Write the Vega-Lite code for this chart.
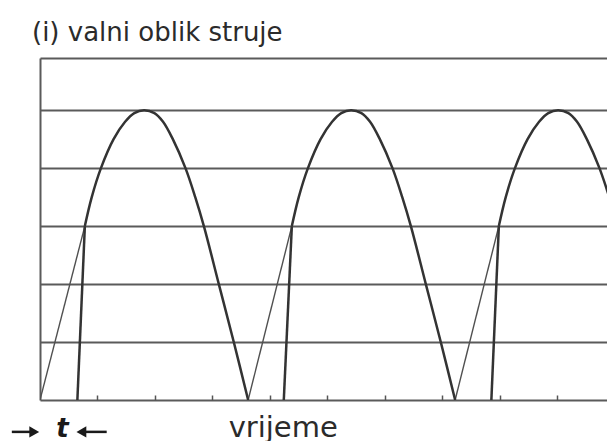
{
  "$schema": "https://vega.github.io/schema/vega-lite/v6.json",
  "width": 567,
  "height": 342,
  "autosize": "none",
  "padding": {"left": 40, "top": 58, "right": 0, "bottom": 41},
  "background": "white",
  "config": {"view": {"stroke": null}},
  "title": {
    "text": "(i) valni oblik struje",
    "anchor": "start",
    "frame": "group",
    "font": "DejaVu Sans",
    "fontSize": 26,
    "fontWeight": "normal",
    "color": "#2b2b2b",
    "baseline": "alphabetic",
    "offset": -9,
    "dx": -8
  },
  "datasets": {
    "arc": [
      {"seg": 1, "x": 0.78, "y": 3.0}, {"seg": 1, "x": 0.90, "y": 3.5}, {"seg": 1, "x": 1.06, "y": 4.0},
      {"seg": 1, "x": 1.28, "y": 4.5}, {"seg": 1, "x": 1.48, "y": 4.8}, {"seg": 1, "x": 1.64, "y": 4.95},
      {"seg": 1, "x": 1.81, "y": 5.0}, {"seg": 1, "x": 1.99, "y": 4.95}, {"seg": 1, "x": 2.14, "y": 4.8},
      {"seg": 1, "x": 2.31, "y": 4.5}, {"seg": 1, "x": 2.53, "y": 4.0}, {"seg": 1, "x": 2.70, "y": 3.5},
      {"seg": 1, "x": 2.85, "y": 3.0}, {"seg": 1, "x": 3.11, "y": 2.0}, {"seg": 1, "x": 3.37, "y": 1.0},
      {"seg": 1, "x": 3.62, "y": 0.0},
      {"seg": 2, "x": 4.38, "y": 3.0}, {"seg": 2, "x": 4.50, "y": 3.5}, {"seg": 2, "x": 4.66, "y": 4.0},
      {"seg": 2, "x": 4.88, "y": 4.5}, {"seg": 2, "x": 5.08, "y": 4.8}, {"seg": 2, "x": 5.24, "y": 4.95},
      {"seg": 2, "x": 5.41, "y": 5.0}, {"seg": 2, "x": 5.59, "y": 4.95}, {"seg": 2, "x": 5.74, "y": 4.8},
      {"seg": 2, "x": 5.91, "y": 4.5}, {"seg": 2, "x": 6.13, "y": 4.0}, {"seg": 2, "x": 6.30, "y": 3.5},
      {"seg": 2, "x": 6.45, "y": 3.0}, {"seg": 2, "x": 6.71, "y": 2.0}, {"seg": 2, "x": 6.97, "y": 1.0},
      {"seg": 2, "x": 7.22, "y": 0.0},
      {"seg": 3, "x": 7.98, "y": 3.0}, {"seg": 3, "x": 8.10, "y": 3.5}, {"seg": 3, "x": 8.26, "y": 4.0},
      {"seg": 3, "x": 8.48, "y": 4.5}, {"seg": 3, "x": 8.68, "y": 4.8}, {"seg": 3, "x": 8.84, "y": 4.95},
      {"seg": 3, "x": 9.01, "y": 5.0}, {"seg": 3, "x": 9.19, "y": 4.95}, {"seg": 3, "x": 9.34, "y": 4.8},
      {"seg": 3, "x": 9.51, "y": 4.5}, {"seg": 3, "x": 9.73, "y": 4.0}, {"seg": 3, "x": 9.90, "y": 3.5},
      {"seg": 3, "x": 10.05, "y": 3.0}, {"seg": 3, "x": 10.31, "y": 2.0}
    ],
    "rise": [
      {"seg": 1, "x": 0.65, "y": 0}, {"seg": 1, "x": 0.78, "y": 3.0},
      {"seg": 2, "x": 4.24, "y": 0}, {"seg": 2, "x": 4.38, "y": 3.0},
      {"seg": 3, "x": 7.85, "y": 0}, {"seg": 3, "x": 7.98, "y": 3.0}
    ],
    "ramp": [
      {"seg": 1, "x": 0.0, "y": 0}, {"seg": 1, "x": 0.78, "y": 3.0},
      {"seg": 2, "x": 3.62, "y": 0}, {"seg": 2, "x": 4.38, "y": 3.0},
      {"seg": 3, "x": 7.22, "y": 0}, {"seg": 3, "x": 7.98, "y": 3.0}
    ],
    "arrowShaft": [
      {"x": -0.49, "x2": -0.12, "y": -0.55},
      {"x": 0.74, "x2": 1.16, "y": -0.55}
    ],
    "arrowHead": [
      {"x": -0.1, "y": -0.55, "shape": "triangle-right"},
      {"x": 0.72, "y": -0.55, "shape": "triangle-left"}
    ],
    "labels": [
      {"x": 4.23, "y": -0.63, "label": "vrijeme"}
    ],
    "tlabel": [
      {"x": 0.39, "y": -0.64, "label": "t"}
    ]
  },
  "layer": [
    {
      "data": {"name": "ramp"},
      "mark": {"type": "line", "color": "#505050", "strokeWidth": 1.4, "clip": true},
      "encoding": {
        "x": {
          "field": "x", "type": "quantitative",
          "scale": {"domain": [0, 9.861], "nice": false, "zero": false},
          "axis": {
            "values": [1, 2, 3, 4, 5, 6, 7, 8, 9],
            "labels": false, "title": null, "domain": false, "grid": false,
            "ticks": true, "tickSize": -5, "tickColor": "#555555", "tickWidth": 1.5
          }
        },
        "y": {
          "field": "y", "type": "quantitative",
          "scale": {"domain": [0, 5.9], "nice": false, "zero": false},
          "axis": {
            "values": [0, 1, 2, 3, 4, 5, 5.9],
            "labels": false, "title": null, "ticks": false,
            "domain": true, "domainColor": "#5a5a5a", "domainWidth": 2,
            "grid": true, "gridColor": "#5a5a5a", "gridWidth": 2, "gridOpacity": 1
          }
        },
        "detail": {"field": "seg"}
      }
    },
    {
      "data": {"name": "rise"},
      "mark": {"type": "line", "color": "#333333", "strokeWidth": 2.5, "clip": true},
      "encoding": {
        "x": {"field": "x", "type": "quantitative"},
        "y": {"field": "y", "type": "quantitative"},
        "detail": {"field": "seg"}
      }
    },
    {
      "data": {"name": "arc"},
      "mark": {"type": "line", "color": "#333333", "strokeWidth": 2.5, "interpolate": "catmull-rom", "clip": true},
      "encoding": {
        "x": {"field": "x", "type": "quantitative"},
        "y": {"field": "y", "type": "quantitative"},
        "detail": {"field": "seg"}
      }
    },
    {
      "data": {"name": "arrowShaft"},
      "mark": {"type": "rule", "color": "#1a1a1a", "strokeWidth": 2.5},
      "encoding": {
        "x": {"field": "x", "type": "quantitative"},
        "x2": {"field": "x2"},
        "y": {"field": "y", "type": "quantitative"}
      }
    },
    {
      "data": {"name": "arrowHead"},
      "mark": {"type": "point", "filled": true, "color": "#1a1a1a", "size": 130, "opacity": 1},
      "encoding": {
        "x": {"field": "x", "type": "quantitative"},
        "y": {"field": "y", "type": "quantitative"},
        "shape": {"field": "shape", "type": "nominal", "scale": null}
      }
    },
    {
      "data": {"name": "labels"},
      "mark": {"type": "text", "font": "DejaVu Sans", "fontSize": 29, "color": "#2b2b2b", "align": "center", "baseline": "alphabetic"},
      "encoding": {
        "x": {"field": "x", "type": "quantitative"},
        "y": {"field": "y", "type": "quantitative"},
        "text": {"field": "label"}
      }
    },
    {
      "data": {"name": "tlabel"},
      "mark": {"type": "text", "font": "DejaVu Sans", "fontSize": 26, "fontStyle": "italic", "fontWeight": "bold", "color": "#1a1a1a", "align": "center", "baseline": "alphabetic"},
      "encoding": {
        "x": {"field": "x", "type": "quantitative"},
        "y": {"field": "y", "type": "quantitative"},
        "text": {"field": "label"}
      }
    }
  ]
}
